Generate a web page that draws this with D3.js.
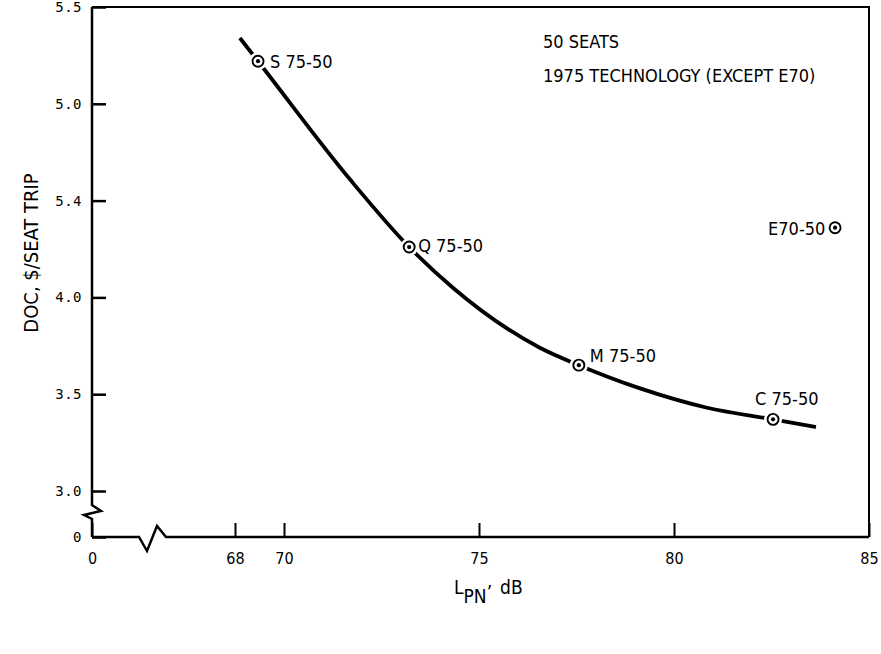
<!DOCTYPE html>
<html>
<head>
<meta charset="utf-8">
<script src="https://cdn.jsdelivr.net/npm/d3@7"></script>
<style>
  html, body { margin: 0; padding: 0; background: #fff; }
  svg { display: block; }
  .cond { font-family: "Liberation Sans Narrow", "DejaVu Sans Condensed", "Arial Narrow", sans-serif; }
  .mono { font-family: "DejaVu Sans Mono", "Liberation Mono", monospace; }
</style>
</head>
<body>
<svg id="chart" width="881" height="654"></svg>
<script>
// ---- data ----
const xTickValues = [0, 68, 70, 75, 80, 85];
const xTickLabels = ["0", "68", "70", "75", "80", "85"];
const yTickValues = [0, 3.0, 3.5, 4.0, 4.5, 5.0, 5.5];
const yTickLabels = ["0", "3.0", "3.5", "4.0", "5.4", "5.0", "5.5"];

const curveLpn = [68.2, 68.94, 71.69, 73.21, 74.33, 76.56, 77.56, 79.13, 80.85, 82.54, 83.64];
const curveDoc = [5.34, 5.22, 4.61, 4.26, 4.05, 3.74, 3.65, 3.53, 3.43, 3.37, 3.33];

const pointNames = ["S 75-50", "Q 75-50", "M 75-50", "C 75-50", "E70-50"];
const pointLpn = [68.94, 73.21, 77.56, 82.54, 84.13];
const pointDoc = [5.22, 4.26, 3.65, 3.37, 4.36];

const notes = ["50 SEATS", "1975 TECHNOLOGY (EXCEPT E70)"];

// ---- scales (broken axes) ----
const x = d3.scaleLinear().domain([0, 68, 70, 85]).range([92, 235, 284, 869]);
const y = d3.scaleLinear().domain([0, 3.0, 5.5]).range([537, 491, 7]);

const svg = d3.select("#chart");

// frame top & right
svg.append("path")
  .attr("d", `M${x(0)},${y(5.5)}H${x(85)}V${y(0)}`)
  .attr("fill", "none").attr("stroke", "#000").attr("stroke-width", 2);

// y axis line with break
const y0 = y(0), y3 = y(3.0), ax = x(0);
svg.append("path")
  .attr("d", `M${ax},${y(5.5)}V${y3 + 14}L${ax + 9},${y3 + 20}L${ax - 8},${y3 + 24}L${ax},${y3 + 28}V${y0}`)
  .attr("fill", "none").attr("stroke", "#000").attr("stroke-width", 2.5).attr("stroke-linejoin", "miter");

// x axis line with break
svg.append("path")
  .attr("d", `M${ax},${y0}H${ax + 47}L${ax + 55},${y0 + 14}L${ax + 65},${y0 - 11}L${ax + 74},${y0}H${x(85)}`)
  .attr("fill", "none").attr("stroke", "#000").attr("stroke-width", 2.5);

// y axis ticks
const yAxis = d3.axisLeft(y).tickValues(yTickValues)
  .tickSize(-14).tickPadding(10)
  .tickFormat((d, i) => yTickLabels[i]);
const gy = svg.append("g").attr("transform", `translate(${ax},0)`).call(yAxis);
gy.select(".domain").remove();
gy.selectAll(".tick line").attr("stroke", "#000").attr("stroke-width", 2.5);
gy.selectAll(".tick text").attr("class", "mono").attr("font-size", 14).attr("fill", "#000").attr("letter-spacing", "0.5");

// x axis ticks
const xAxis = d3.axisBottom(x).tickValues(xTickValues)
  .tickSize(-14).tickPadding(16)
  .tickFormat((d, i) => xTickLabels[i]);
const gx = svg.append("g").attr("transform", `translate(0,${y0})`).call(xAxis);
gx.select(".domain").remove();
gx.selectAll(".tick line").attr("stroke", "#000").attr("stroke-width", 2);
gx.selectAll(".tick text").attr("class", "cond").attr("font-size", 16).attr("fill", "#000");

// curve
const curvePts = curveLpn.map((v, i) => [v, curveDoc[i]]);
const line = d3.line().x(d => x(d[0])).y(d => y(d[1])).curve(d3.curveMonotoneX);
svg.append("path").datum(curvePts)
  .attr("d", line)
  .attr("fill", "none").attr("stroke", "#000").attr("stroke-width", 3.8).attr("stroke-linecap", "butt");

// markers
const pts = pointNames.map((n, i) => ({ name: n, x: pointLpn[i], y: pointDoc[i] }));
const mk = svg.append("g").selectAll("g").data(pts).join("g")
  .attr("transform", d => `translate(${x(d.x)},${y(d.y)})`);
mk.append("circle").attr("r", 9).attr("fill", "#fff");
mk.append("circle").attr("r", 5.5).attr("fill", "#fff").attr("stroke", "#000").attr("stroke-width", 1.9);
mk.append("circle").attr("r", 2.1).attr("fill", "#000");

// point labels
const labelOffsets = [[12, 7], [9, 5], [11, -3], [-18, -14], [-67, 7]];
svg.append("g").selectAll("text").data(pts).join("text")
  .attr("class", "cond")
  .attr("font-size", 18)
  .attr("x", (d, i) => x(d.x) + labelOffsets[i][0])
  .attr("y", (d, i) => y(d.y) + labelOffsets[i][1])
  .text(d => d.name);

// notes
svg.append("g").selectAll("text").data(notes).join("text")
  .attr("class", "cond").attr("font-size", 18)
  .attr("x", 543).attr("y", (d, i) => 48 + i * 34)
  .text(d => d);

// y title
svg.append("text").attr("class", "cond").attr("font-size", 20)
  .attr("transform", "translate(38,253) rotate(-90)")
  .attr("text-anchor", "middle")
  .text("DOC, $/SEAT TRIP");

// x title
const xt = svg.append("text").attr("class", "cond").attr("font-size", 19)
  .attr("x", 454).attr("y", 594);
xt.append("tspan").text("L");
xt.append("tspan").attr("dy", 9).text("PN");
xt.append("tspan").attr("dy", -4).text("\u2019");
xt.append("tspan").attr("dy", -5).attr("dx", 8).text("dB");
</script>
</body>
</html>
